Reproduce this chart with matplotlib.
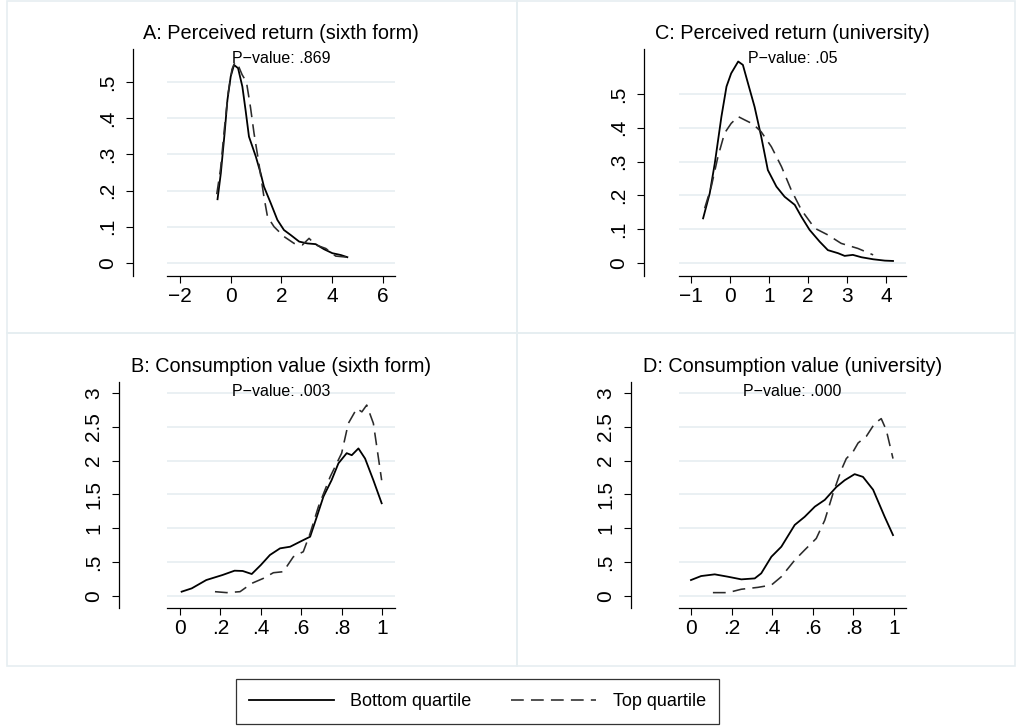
import matplotlib
matplotlib.use("Agg")
import matplotlib.pyplot as plt
from matplotlib.patches import Rectangle

plt.rcParams['font.family'] = ['Liberation Sans', 'DejaVu Sans']

# A: Perceived return (sixth form)
a_bot_x = [-0.52, -0.39, -0.24, -0.13, 0.0, 0.13, 0.29, 0.46, 0.59, 0.72, 0.99, 1.18, 1.31, 1.58,
           1.84, 2.1, 2.37, 2.7, 3.02, 3.35, 3.68, 4.01, 4.34, 4.6]
a_bot_y = [0.176, 0.248, 0.359, 0.45, 0.515, 0.547, 0.538, 0.487, 0.42, 0.349, 0.294, 0.248, 0.211, 0.165,
           0.119, 0.091, 0.077, 0.059, 0.054, 0.052, 0.038, 0.027, 0.022, 0.016]
a_top_x = [-0.55, -0.4, -0.25, -0.1, 0.05, 0.17, 0.3, 0.45, 0.62, 0.78, 0.92, 1.1, 1.31, 1.45,
           1.71, 2.1, 2.5, 2.83, 3.09, 3.35, 3.75, 4.14, 4.6]
a_top_y = [0.19, 0.26, 0.37, 0.47, 0.535, 0.555, 0.545, 0.52, 0.5, 0.43, 0.358, 0.28, 0.183, 0.128,
           0.1, 0.073, 0.054, 0.05, 0.068, 0.05, 0.04, 0.019, 0.016]

# C: Perceived return (university)
c_bot_x = [-0.69, -0.52, -0.39, -0.22, -0.09, 0.03, 0.21, 0.33, 0.46, 0.63, 0.8, 0.97, 1.19, 1.4,
           1.66, 1.83, 2.04, 2.3, 2.51, 2.77, 2.94, 3.15, 3.37, 3.67, 3.97, 4.18]
c_bot_y = [0.132, 0.206, 0.295, 0.433, 0.522, 0.561, 0.596, 0.586, 0.532, 0.462, 0.374, 0.275, 0.226, 0.196,
           0.172, 0.137, 0.098, 0.063, 0.038, 0.029, 0.021, 0.024, 0.017, 0.011, 0.007, 0.006]
c_top_x = [-0.65, -0.48, -0.31, -0.14, 0.03, 0.21, 0.38, 0.59, 0.8, 1.06, 1.32, 1.57, 1.83, 2.17,
           2.51, 2.85, 3.28, 3.67]
c_top_y = [0.162, 0.226, 0.314, 0.384, 0.413, 0.433, 0.423, 0.411, 0.388, 0.344, 0.285, 0.216, 0.157, 0.103,
           0.083, 0.058, 0.043, 0.024]

# B: Consumption value (sixth form)
b_bot_x = [0.008, 0.058, 0.13, 0.21, 0.27, 0.31, 0.355, 0.4, 0.445, 0.495, 0.545, 0.594, 0.644, 0.677,
           0.71, 0.75, 0.784, 0.825, 0.85, 0.883, 0.916, 0.957, 0.998]
b_bot_y = [0.064, 0.113, 0.236, 0.31, 0.374, 0.37, 0.325, 0.458, 0.606, 0.704, 0.728, 0.802, 0.876, 1.17,
           1.47, 1.71, 1.96, 2.11, 2.08, 2.18, 2.03, 1.71, 1.37]
b_top_x = [0.173, 0.231, 0.297, 0.355, 0.412, 0.462, 0.511, 0.561, 0.61, 0.644, 0.685, 0.743, 0.8, 0.833,
           0.875, 0.9, 0.924, 0.957, 0.998]
b_top_y = [0.064, 0.05, 0.064, 0.187, 0.26, 0.344, 0.359, 0.58, 0.654, 0.926, 1.32, 1.76, 2.11, 2.55,
           2.77, 2.72, 2.82, 2.55, 1.71]

# D: Consumption value (university)
d_bot_x = [0.0, 0.05, 0.117, 0.182, 0.248, 0.314, 0.346, 0.396, 0.445, 0.511, 0.56, 0.61, 0.659, 0.716,
           0.757, 0.806, 0.847, 0.897, 0.954, 0.995]
d_bot_y = [0.236, 0.295, 0.32, 0.285, 0.246, 0.26, 0.335, 0.58, 0.728, 1.05, 1.17, 1.32, 1.42, 1.61,
           1.71, 1.8, 1.76, 1.57, 1.17, 0.9]
d_top_x = [0.108, 0.182, 0.248, 0.33, 0.396, 0.445, 0.511, 0.56, 0.617, 0.659, 0.7, 0.74, 0.765, 0.798,
           0.823, 0.864, 0.905, 0.937, 0.962, 0.995]
d_top_y = [0.05, 0.05, 0.1, 0.128, 0.162, 0.285, 0.53, 0.68, 0.85, 1.12, 1.52, 1.86, 2.03, 2.13,
           2.26, 2.36, 2.55, 2.62, 2.45, 2.03]

titles = ["A: Perceived return (sixth form)", "C: Perceived return (university)",
          "B: Consumption value (sixth form)", "D: Consumption value (university)"]
pvalues = [".869", ".05", ".003", ".000"]
ret_yticks = [0, 0.1, 0.2, 0.3, 0.4, 0.5]
ret_ylabels = ["0", ".1", ".2", ".3", ".4", ".5"]
a_xticks = [-2, 0, 2, 4, 6]
c_xticks = [-1, 0, 1, 2, 3, 4]
cons_yticks = [0, 0.5, 1, 1.5, 2, 2.5, 3]
cons_ylabels = ["0", ".5", "1", "1.5", "2", "2.5", "3"]
cons_xticks = [0, 0.2, 0.4, 0.6, 0.8, 1]
cons_xlabels = ["0", ".2", ".4", ".6", ".8", "1"]

W, H = 1016, 727
fig = plt.figure(figsize=(W / 100, H / 100), dpi=100)
grid_col = '#e6eef1'

# panel frames
for (l, t, r, b) in [(7, 1, 517, 333), (517, 1, 1015, 333), (7, 333, 517, 666), (517, 333, 1015, 666)]:
    fig.patches.append(Rectangle((l / W, 1 - b / H), (r - l) / W, (b - t) / H, transform=fig.transFigure,
                                 fill=False, edgecolor=grid_col, linewidth=1.2))


def px_rect(l, t, r, b):
    return [l / W, 1 - b / H, (r - l) / W, (b - t) / H]


def make_panel(rect, offset, title, pval, xlim, ylim, xticks, xlabels, yticks, ylabels,
               bx, by, tx, ty):
    ax = fig.add_axes(px_rect(*rect))
    ax.set_facecolor('none')
    for s in ['top', 'right']:
        ax.spines[s].set_visible(False)
    ax.spines['left'].set_position(('outward', offset * 0.72))
    ax.spines['left'].set_linewidth(0.9)
    ax.spines['bottom'].set_linewidth(0.9)
    ax.set_xlim(*xlim)
    ax.set_ylim(*ylim)
    ax.set_xticks(xticks)
    ax.set_xticklabels(xlabels)
    ax.set_yticks(yticks)
    ax.set_yticklabels(ylabels, rotation=90, va='center')
    ax.tick_params(axis='both', labelsize=15, length=5, width=0.8, direction='out')
    ax.tick_params(axis='x', pad=3)
    ax.tick_params(axis='y', pad=6.5)
    for y in yticks:
        ax.axhline(y, color=grid_col, linewidth=1.2, zorder=0)
    l1, = ax.plot(bx, by, color='black', linewidth=1.3, label='Bottom quartile')
    l2, = ax.plot(tx, ty, color='#2a2a2a', linewidth=1.15, dashes=(8, 4.5), label='Top quartile')
    ax.set_title(title, fontsize=14.3, pad=7.2)
    ax.annotate("P\u2212value: " + pval, xy=(0.5, 1), xycoords='axes fraction', xytext=(0, -10),
                textcoords='offset points', ha='center', va='baseline', fontsize=11.5)
    return l1, l2


def fmt(v):
    return "\u2212" + str(abs(v)) if v < 0 else str(v)


h1, h2 = make_panel((167, 49, 395, 276), 34, titles[0], pvalues[0], (-2.513, 6.48), (-0.036, 0.591),
                    a_xticks, [fmt(v) for v in a_xticks], ret_yticks, ret_ylabels,
                    a_bot_x, a_bot_y, a_top_x, a_top_y)
make_panel((679, 49, 906, 276), 35, titles[1], pvalues[1], (-1.308, 4.513), (-0.0385, 0.633),
           c_xticks, [fmt(v) for v in c_xticks], ret_yticks, ret_ylabels,
           c_bot_x, c_bot_y, c_top_x, c_top_y)
make_panel((167, 382, 395, 608), 48, titles[2], pvalues[2], (-0.0644, 1.064), (-0.177, 3.161),
           cons_xticks, cons_xlabels, cons_yticks, cons_ylabels,
           b_bot_x, b_bot_y, b_top_x, b_top_y)
make_panel((679, 382, 906, 608), 48, titles[3], pvalues[3], (-0.059, 1.059), (-0.177, 3.161),
           cons_xticks, cons_xlabels, cons_yticks, cons_ylabels,
           d_bot_x, d_bot_y, d_top_x, d_top_y)

leg = fig.legend([h1, h2], ['Bottom quartile', 'Top quartile'], loc='center',
                 bbox_to_anchor=(477.5 / W, 1 - 701.5 / H), ncol=2, fontsize=13,
                 handlelength=4.7, handletextpad=0.9, columnspacing=2.2, borderpad=0.75,
                 fancybox=False, frameon=True, edgecolor='black', borderaxespad=0)
leg.get_frame().set_linewidth(0.9)

fig.savefig("out.png", dpi=100, facecolor='white')
